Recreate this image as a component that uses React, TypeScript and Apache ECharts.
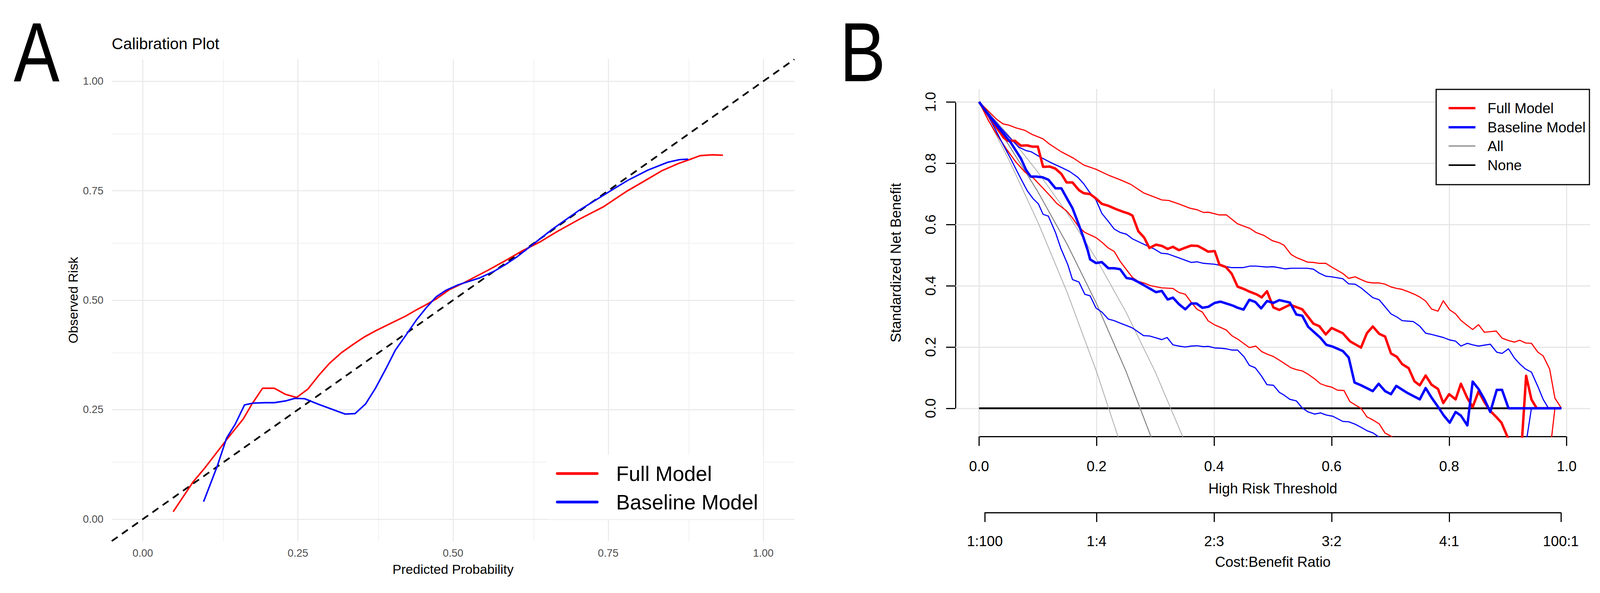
import React, { useEffect, useRef } from "react";
import * as echarts from "echarts";

const W = 4238;
const H = 1519;
const FONT = "'Liberation Sans', Arial, Helvetica, sans-serif";

// ---------------- Panel A : calibration plot data ----------------
const calibTicks = [0, 0.25, 0.5, 0.75, 1];
const calibMinor = [0.125, 0.375, 0.625, 0.875];
const calibDiagonal = [[-0.05, -0.05], [1.05, 1.05]];
const fullCalib = [
  [0.049, 0.017], [0.081, 0.085], [0.1, 0.117], [0.137, 0.185], [0.162, 0.229], [0.176, 0.263],
  [0.193, 0.299], [0.212, 0.299], [0.23, 0.285], [0.248, 0.278], [0.266, 0.297], [0.284, 0.329],
  [0.301, 0.356], [0.32, 0.38], [0.34, 0.4], [0.357, 0.416], [0.375, 0.43], [0.408, 0.453],
  [0.424, 0.464], [0.441, 0.478], [0.457, 0.49], [0.473, 0.503], [0.494, 0.524], [0.515, 0.538],
  [0.557, 0.569], [0.584, 0.59], [0.612, 0.613], [0.64, 0.633], [0.668, 0.657], [0.705, 0.686],
  [0.742, 0.713], [0.779, 0.748], [0.807, 0.771], [0.837, 0.796], [0.863, 0.812], [0.881, 0.821],
  [0.898, 0.83], [0.917, 0.832], [0.935, 0.831],
];
const baseCalib = [
  [0.098, 0.04], [0.12, 0.121], [0.135, 0.185], [0.149, 0.217], [0.164, 0.261], [0.178, 0.265],
  [0.197, 0.266], [0.212, 0.266], [0.23, 0.27], [0.245, 0.276], [0.261, 0.275], [0.282, 0.263],
  [0.305, 0.251], [0.326, 0.24], [0.342, 0.241], [0.359, 0.263], [0.375, 0.299], [0.392, 0.344],
  [0.407, 0.386], [0.425, 0.422], [0.441, 0.455], [0.457, 0.483], [0.473, 0.508], [0.489, 0.523],
  [0.508, 0.535], [0.543, 0.551], [0.566, 0.566], [0.584, 0.581], [0.603, 0.599], [0.622, 0.62],
  [0.64, 0.64], [0.659, 0.661], [0.677, 0.679], [0.705, 0.707], [0.728, 0.727], [0.754, 0.75],
  [0.782, 0.774], [0.814, 0.797], [0.846, 0.815], [0.865, 0.821], [0.879, 0.822],
];

// ---------------- Panel B : decision curve data ----------------
const dcaTicks = [0, 0.2, 0.4, 0.6, 0.8, 1];
const costBenefitValues = [1 / 101, 0.2, 0.4, 0.6, 0.8, 100 / 101];
const costBenefitLabels = ["1:100", "1:4", "2:3", "3:2", "4:1", "100:1"];

const fullNB = [
  [0, 1], [0.042, 0.883], [0.049, 0.873], [0.061, 0.873], [0.071, 0.857], [0.082, 0.858], [0.09, 0.854],
  [0.1, 0.854], [0.109, 0.788], [0.12, 0.789], [0.13, 0.782], [0.14, 0.765], [0.149, 0.737], [0.159, 0.737],
  [0.17, 0.712], [0.178, 0.702], [0.189, 0.699], [0.199, 0.685], [0.209, 0.667], [0.22, 0.661], [0.233, 0.65],
  [0.244, 0.642], [0.254, 0.636], [0.261, 0.629], [0.271, 0.578], [0.281, 0.557], [0.29, 0.523], [0.301, 0.534],
  [0.311, 0.53], [0.321, 0.52], [0.33, 0.527], [0.34, 0.516], [0.351, 0.524], [0.361, 0.531], [0.372, 0.53],
  [0.382, 0.52], [0.39, 0.511], [0.401, 0.513], [0.409, 0.469], [0.42, 0.461], [0.43, 0.439], [0.44, 0.397],
  [0.451, 0.389], [0.461, 0.38], [0.472, 0.372], [0.481, 0.362], [0.49, 0.382], [0.501, 0.329], [0.511, 0.321],
  [0.529, 0.338], [0.55, 0.323], [0.569, 0.276], [0.579, 0.268], [0.59, 0.241], [0.6, 0.262], [0.619, 0.245],
  [0.631, 0.219], [0.65, 0.198], [0.66, 0.245], [0.67, 0.267], [0.681, 0.243], [0.691, 0.234], [0.701, 0.179],
  [0.711, 0.168], [0.72, 0.144], [0.731, 0.131], [0.741, 0.088], [0.75, 0.075], [0.76, 0.107], [0.77, 0.077],
  [0.781, 0.063], [0.79, 0.017], [0.8, 0.046], [0.811, 0.029], [0.82, 0.08], [0.831, 0.033], [0.84, 0.004],
  [0.85, 0.055], [0.86, 0.02], [0.87, -0.009], [0.879, -0.026], [0.889, -0.047], [0.903, -0.11], [0.921, -0.19],
  [0.931, 0.106], [0.94, 0.029], [0.949, 0], [0.99, 0],
];
const fullUpper = [
  [0, 1], [0.02, 0.962], [0.03, 0.943], [0.041, 0.928], [0.051, 0.924], [0.063, 0.915], [0.078, 0.907],
  [0.09, 0.894], [0.109, 0.879], [0.12, 0.862], [0.14, 0.837], [0.161, 0.816], [0.178, 0.794], [0.199, 0.78],
  [0.22, 0.761], [0.24, 0.746], [0.258, 0.731], [0.28, 0.703], [0.299, 0.689], [0.311, 0.68], [0.323, 0.678],
  [0.34, 0.667], [0.359, 0.653], [0.371, 0.648], [0.382, 0.639], [0.39, 0.64], [0.409, 0.631], [0.421, 0.631],
  [0.44, 0.602], [0.461, 0.587], [0.471, 0.574], [0.485, 0.564], [0.499, 0.547], [0.511, 0.54], [0.519, 0.532],
  [0.531, 0.502], [0.54, 0.492], [0.559, 0.477], [0.569, 0.476], [0.579, 0.473], [0.59, 0.473], [0.6, 0.461],
  [0.619, 0.44], [0.629, 0.424], [0.64, 0.429], [0.65, 0.42], [0.66, 0.412], [0.67, 0.409], [0.681, 0.409],
  [0.691, 0.405], [0.701, 0.396], [0.711, 0.391], [0.72, 0.388], [0.731, 0.38], [0.741, 0.372], [0.75, 0.363],
  [0.76, 0.35], [0.77, 0.324], [0.781, 0.317], [0.79, 0.351], [0.801, 0.321], [0.811, 0.308], [0.82, 0.287],
  [0.831, 0.27], [0.84, 0.257], [0.85, 0.273], [0.86, 0.248], [0.88, 0.252], [0.89, 0.229], [0.901, 0.221],
  [0.911, 0.216], [0.92, 0.222], [0.93, 0.213], [0.94, 0.212], [0.951, 0.183], [0.96, 0.171], [0.971, 0.128],
  [0.98, 0.033], [0.991, 0],
];
const fullLower = [
  [0, 1], [0.016, 0.939], [0.03, 0.894], [0.047, 0.845], [0.063, 0.803], [0.078, 0.771], [0.092, 0.752],
  [0.109, 0.718], [0.123, 0.689], [0.132, 0.669], [0.149, 0.644], [0.159, 0.621], [0.17, 0.591], [0.18, 0.574],
  [0.199, 0.557], [0.209, 0.542], [0.22, 0.523], [0.23, 0.512], [0.24, 0.48], [0.251, 0.452], [0.261, 0.427],
  [0.271, 0.414], [0.282, 0.408], [0.292, 0.4], [0.311, 0.393], [0.33, 0.391], [0.34, 0.378], [0.351, 0.372],
  [0.361, 0.346], [0.371, 0.323], [0.38, 0.314], [0.39, 0.285], [0.401, 0.272], [0.411, 0.264], [0.421, 0.255],
  [0.43, 0.237], [0.44, 0.226], [0.45, 0.212], [0.46, 0.198], [0.471, 0.203], [0.481, 0.185], [0.491, 0.176],
  [0.501, 0.169], [0.511, 0.157], [0.519, 0.147], [0.531, 0.132], [0.54, 0.126], [0.55, 0.122], [0.56, 0.111],
  [0.571, 0.096], [0.581, 0.08], [0.591, 0.073], [0.6, 0.069], [0.61, 0.059], [0.621, 0.058], [0.631, 0.022],
  [0.641, 0.01], [0.65, 0], [0.66, -0.028], [0.671, -0.039], [0.681, -0.051], [0.691, -0.081], [0.702, -0.092],
  [0.712, -0.13], [0.968, -0.2], [0.98, 0], [0.991, 0],
];
const baseNB = [
  [0, 1], [0.02, 0.947], [0.037, 0.907], [0.054, 0.867], [0.071, 0.816], [0.08, 0.778], [0.088, 0.756],
  [0.097, 0.756], [0.108, 0.754], [0.118, 0.746], [0.13, 0.718], [0.14, 0.718], [0.151, 0.68], [0.159, 0.653],
  [0.168, 0.608], [0.177, 0.561], [0.185, 0.515], [0.189, 0.486], [0.199, 0.474], [0.209, 0.477], [0.22, 0.457],
  [0.23, 0.457], [0.24, 0.454], [0.251, 0.425], [0.261, 0.422], [0.271, 0.412], [0.282, 0.4], [0.292, 0.389],
  [0.301, 0.379], [0.311, 0.383], [0.321, 0.355], [0.33, 0.361], [0.34, 0.34], [0.351, 0.323], [0.361, 0.342],
  [0.37, 0.342], [0.38, 0.328], [0.39, 0.331], [0.401, 0.344], [0.411, 0.348], [0.421, 0.342], [0.432, 0.335],
  [0.44, 0.328], [0.45, 0.322], [0.46, 0.354], [0.47, 0.347], [0.48, 0.326], [0.49, 0.35], [0.501, 0.344],
  [0.511, 0.353], [0.529, 0.345], [0.54, 0.306], [0.55, 0.302], [0.56, 0.266], [0.571, 0.247], [0.581, 0.23],
  [0.591, 0.207], [0.602, 0.201], [0.619, 0.187], [0.629, 0.166], [0.639, 0.084], [0.65, 0.075], [0.67, 0.056],
  [0.68, 0.08], [0.691, 0.056], [0.701, 0.046], [0.71, 0.073], [0.729, 0.05], [0.75, 0.029], [0.76, 0.066],
  [0.77, 0.035], [0.781, 0.005], [0.791, -0.024], [0.801, -0.047], [0.811, -0.012], [0.82, -0.024],
  [0.831, -0.056], [0.84, 0.087], [0.85, 0.063], [0.86, 0.029], [0.87, -0.012], [0.881, 0.06], [0.89, 0.06],
  [0.901, 0], [0.991, 0],
];
const baseUpper = [
  [0, 1], [0.02, 0.953], [0.037, 0.915], [0.056, 0.875], [0.068, 0.852], [0.08, 0.841], [0.089, 0.837],
  [0.104, 0.82], [0.123, 0.801], [0.14, 0.786], [0.154, 0.773], [0.168, 0.754], [0.178, 0.733], [0.187, 0.708],
  [0.199, 0.68], [0.209, 0.636], [0.22, 0.61], [0.23, 0.585], [0.24, 0.574], [0.251, 0.568], [0.261, 0.553],
  [0.282, 0.534], [0.299, 0.519], [0.31, 0.506], [0.321, 0.504], [0.337, 0.493], [0.351, 0.483], [0.361, 0.476],
  [0.371, 0.478], [0.382, 0.473], [0.401, 0.47], [0.411, 0.466], [0.43, 0.459], [0.449, 0.459], [0.461, 0.464],
  [0.471, 0.464], [0.489, 0.461], [0.501, 0.462], [0.521, 0.455], [0.531, 0.457], [0.559, 0.457], [0.569, 0.454],
  [0.579, 0.441], [0.59, 0.431], [0.6, 0.429], [0.619, 0.423], [0.629, 0.406], [0.64, 0.405], [0.65, 0.393],
  [0.66, 0.377], [0.67, 0.361], [0.681, 0.354], [0.691, 0.331], [0.701, 0.308], [0.711, 0.298], [0.72, 0.286],
  [0.739, 0.283], [0.75, 0.268], [0.76, 0.245], [0.77, 0.241], [0.79, 0.231], [0.801, 0.223], [0.811, 0.219],
  [0.82, 0.203], [0.831, 0.212], [0.84, 0.207], [0.85, 0.203], [0.87, 0.209], [0.881, 0.183], [0.89, 0.179],
  [0.901, 0.194], [0.911, 0.164], [0.92, 0.145], [0.93, 0.128], [0.94, 0.118], [0.951, 0.071], [0.96, 0.029],
  [0.969, 0], [0.991, 0],
];
const baseLower = [
  [0, 1], [0.013, 0.962], [0.027, 0.913], [0.04, 0.864], [0.054, 0.814], [0.068, 0.761], [0.082, 0.71],
  [0.092, 0.684], [0.101, 0.667], [0.109, 0.633], [0.118, 0.627], [0.13, 0.574], [0.139, 0.523], [0.151, 0.469],
  [0.159, 0.42], [0.17, 0.412], [0.18, 0.372], [0.189, 0.367], [0.199, 0.327], [0.209, 0.314], [0.22, 0.291],
  [0.23, 0.286], [0.24, 0.278], [0.251, 0.27], [0.261, 0.262], [0.271, 0.249], [0.28, 0.237], [0.29, 0.236],
  [0.301, 0.23], [0.311, 0.224], [0.32, 0.231], [0.33, 0.207], [0.34, 0.203], [0.351, 0.2], [0.361, 0.203],
  [0.371, 0.204], [0.382, 0.201], [0.39, 0.202], [0.401, 0.197], [0.411, 0.196], [0.421, 0.194], [0.43, 0.19],
  [0.44, 0.19], [0.451, 0.168], [0.46, 0.14], [0.47, 0.132], [0.48, 0.107], [0.49, 0.077], [0.501, 0.075],
  [0.511, 0.052], [0.519, 0.043], [0.529, 0.029], [0.54, 0.024], [0.55, 0.001], [0.56, -0.012], [0.571, -0.019],
  [0.581, -0.015], [0.591, -0.022], [0.602, -0.026], [0.619, -0.043], [0.629, -0.044], [0.64, -0.052],
  [0.65, -0.062], [0.66, -0.073], [0.671, -0.081], [0.679, -0.092], [0.69, -0.12], [0.924, -0.2], [0.94, 0],
  [0.991, 0],
];
const allLow = [[0, 1], [0.05, 0.814], [0.1, 0.608], [0.15, 0.378], [0.2, 0.119], [0.24, -0.113]];
const allMid = [[0, 1], [0.05, 0.861], [0.1, 0.707], [0.15, 0.535], [0.2, 0.341], [0.25, 0.121], [0.3, -0.13]];
const allHigh = [[0, 1], [0.05, 0.892], [0.1, 0.771], [0.15, 0.637], [0.2, 0.486], [0.25, 0.314], [0.3, 0.118], [0.35, -0.108]];
const noneLine = [[0, 0], [0.99, 0]];

// ---------------- layout (design pixels, 4238 x 1519) ----------------
const A_LEFT = 296, A_TOP = 152, A_W = 1808, A_H = 1234;
const A_MIN = -0.05, A_MAX = 1.05;
const B_LEFT = 2531, B_TOP = 228, B_W = 1681, B_H = 890;
const BX_MIN = -0.04, BX_MAX = 1.04, BY_MIN = -0.092, BY_MAX = 1.042;
const bx = (v: number) => B_LEFT + ((v - BX_MIN) / (BX_MAX - BX_MIN)) * B_W;
const by = (v: number) => B_TOP + ((BY_MAX - v) / (BY_MAX - BY_MIN)) * B_H;
const CB_AXIS_Y = 1313;

const RED = "#FF0000";
const BLUE = "#0000FF";

function buildOption(sx: number, sy: number) {
  const s = Math.min(sx, sy);
  const X = (v: number) => v * sx;
  const Y = (v: number) => v * sy;
  const F = (v: number) => v * s;

  const lineSeries = (name: string, data: number[][], xi: number, yi: number, color: string, width: number, z: number, extra: any = {}) => ({
    type: "line",
    name,
    data,
    xAxisIndex: xi,
    yAxisIndex: yi,
    showSymbol: false,
    symbol: "none",
    silent: true,
    z,
    clip: true,
    lineStyle: { color, width: F(width), cap: "butt", join: "round", ...extra },
    itemStyle: { color },
  });

  const gridLineSeries = (xi: number, yi: number, items: any[]) => ({
    type: "line",
    data: [],
    xAxisIndex: xi,
    yAxisIndex: yi,
    silent: true,
    z: 1,
    markLine: {
      silent: true,
      z: 1,
      zlevel: 0,
      symbol: ["none", "none"],
      label: { show: false },
      animation: false,
      data: items,
    },
  });

  const aMajor = "#EBEBEB";
  const aMinor = "#F1F1F1";
  const aGrid = [
    ...calibTicks.map((v) => ({ xAxis: v, lineStyle: { color: aMajor, width: F(3), type: "solid" } })),
    ...calibMinor.map((v) => ({ xAxis: v, lineStyle: { color: aMinor, width: F(2), type: "solid" } })),
    ...calibTicks.map((v) => ({ yAxis: v, lineStyle: { color: aMajor, width: F(3), type: "solid" } })),
    ...calibMinor.map((v) => ({ yAxis: v, lineStyle: { color: aMinor, width: F(2), type: "solid" } })),
  ];
  const bGridColor = "#E6E6E6";
  const bGrid = [
    ...dcaTicks.map((v) => ({ xAxis: v, lineStyle: { color: bGridColor, width: F(3), type: "solid" } })),
    ...dcaTicks.map((v) => ({ yAxis: v, lineStyle: { color: bGridColor, width: F(3), type: "solid" } })),
  ];

  const hiddenAxis = (gridIndex: number, min: number, max: number) => ({
    type: "value",
    gridIndex,
    min,
    max,
    show: false,
    axisLine: { show: false, onZero: false },
    splitLine: { show: false },
  });

  const cbLeft = bx(costBenefitValues[0]);
  const cbRight = bx(costBenefitValues[costBenefitValues.length - 1]);
  const blackAxis = { show: true, onZero: false, lineStyle: { color: "#000", width: F(3) } };
  const blackTick = { show: true, length: F(25), inside: false, lineStyle: { color: "#000", width: F(3) } };
  const bText = { fontSize: F(38), color: "#000", fontFamily: FONT };

  const legendA = { x0: 1448, y0: 1165, w: 574, h: 165, lineX1: 1476, lineX2: 1582, textX: 1632, rows: [1213, 1286] };
  const legendB = { x0: 3804, y0: 229, w: 406, h: 244, lineX1: 3837, lineX2: 3908, textX: 3940, rows: [277, 326, 374, 423] };
  const legendAItems = [
    { text: "Full Model", color: RED },
    { text: "Baseline Model", color: BLUE },
  ];
  const legendBItems = [
    { text: "Full Model", color: RED, width: 6 },
    { text: "Baseline Model", color: BLUE, width: 6 },
    { text: "All", color: "#A0A0A0", width: 4 },
    { text: "None", color: "#000000", width: 4 },
  ];
  const txt = (text: string, x: number, y: number, size: number, extra: any = {}) => ({
    type: "text",
    z: 51,
    x: X(x),
    y: Y(y),
    style: {
      text,
      fontSize: F(size),
      fontFamily: FONT,
      fill: "#000",
      align: "left",
      verticalAlign: "middle",
      textAlign: "left",
      textVerticalAlign: "middle",
      ...extra,
    },
  });

  // panel letters: baseline of the capital on y = 208 (design), kept inside the top edge
  const letterSize = F(222);
  const letterY = (Y(208) - 0.3465 * letterSize) / sy;
  const letter = (t: string, x: number) => ({
    ...txt(t, x, letterY, 222, { align: "center", textAlign: "center" }),
    scaleX: 0.82,
  });

  const grids = [
    { left: X(A_LEFT), top: Y(A_TOP), width: X(A_W), height: Y(A_H) },
    { left: X(B_LEFT), top: Y(B_TOP), width: X(B_W), height: Y(B_H) },
    { left: X(B_LEFT), top: Y(by(1)), width: 1, height: Y(by(0) - by(1)) },
    { left: X(bx(0)), top: Y(by(BY_MIN)) - 1, width: X(bx(1) - bx(0)), height: 1 },
    { left: X(cbLeft), top: Y(CB_AXIS_Y) - 1, width: X(cbRight - cbLeft), height: 1 },
  ].map((g) => ({ ...g, containLabel: false, outerBoundsMode: "none" }));

  return {
    animation: false,
    backgroundColor: "#FFFFFF",
    textStyle: { fontFamily: FONT },
    title: {
      text: "Calibration Plot",
      left: X(A_LEFT),
      top: Y(91),
      padding: 0,
      textStyle: { fontSize: F(42), fontWeight: "normal", color: "#000", fontFamily: FONT },
    },
    grid: grids,
    xAxis: [
      {
        type: "value",
        gridIndex: 0,
        min: A_MIN,
        max: A_MAX,
        axisLine: { show: false, onZero: false },
        axisTick: { show: false },
        splitLine: { show: false },
        axisLabel: {
          customValues: calibTicks,
          formatter: (v: number) => v.toFixed(2),
          margin: Y(31),
          verticalAlign: "middle",
          fontSize: F(28),
          color: "#4D4D4D",
          fontFamily: FONT,
        },
        name: "Predicted Probability",
        nameLocation: "middle",
        nameGap: Y(72),
        nameMoveOverlap: false,
        nameTextStyle: { fontSize: F(35), color: "#000", fontFamily: FONT, verticalAlign: "middle" },
      },
      hiddenAxis(1, BX_MIN, BX_MAX),
      hiddenAxis(2, 0, 1),
      {
        type: "value",
        gridIndex: 3,
        min: 0,
        max: 1,
        interval: 0.2,
        axisLine: blackAxis,
        axisTick: blackTick,
        splitLine: { show: false },
        axisLabel: {
          ...bText,
          formatter: (v: number) => v.toFixed(1),
          margin: Y(76),
          verticalAlign: "middle",
          showMinLabel: true,
          showMaxLabel: true,
        },
        name: "High Risk Threshold",
        nameLocation: "middle",
        nameGap: Y(133),
        nameMoveOverlap: false,
        nameTextStyle: { ...bText, verticalAlign: "middle" },
      },
      {
        type: "value",
        gridIndex: 4,
        min: costBenefitValues[0],
        max: costBenefitValues[costBenefitValues.length - 1],
        axisLine: blackAxis,
        axisTick: { ...blackTick, customValues: costBenefitValues },
        splitLine: { show: false },
        axisLabel: {
          ...bText,
          customValues: costBenefitValues,
          formatter: (v: number) => {
            let best = 0;
            costBenefitValues.forEach((c, i) => {
              if (Math.abs(c - v) < Math.abs(costBenefitValues[best] - v)) best = i;
            });
            return costBenefitLabels[best];
          },
          margin: Y(73),
          verticalAlign: "middle",
          showMinLabel: true,
          showMaxLabel: true,
        },
        name: "Cost:Benefit Ratio",
        nameLocation: "middle",
        nameGap: Y(126),
        nameMoveOverlap: false,
        nameTextStyle: { ...bText, verticalAlign: "middle" },
      },
    ],
    yAxis: [
      {
        type: "value",
        gridIndex: 0,
        min: A_MIN,
        max: A_MAX,
        axisLine: { show: false, onZero: false },
        axisTick: { show: false },
        splitLine: { show: false },
        axisLabel: {
          customValues: calibTicks,
          formatter: (v: number) => v.toFixed(2),
          margin: X(22),
          fontSize: F(28),
          color: "#4D4D4D",
          fontFamily: FONT,
        },
        name: "Observed Risk",
        nameLocation: "middle",
        nameGap: X(103),
        nameRotate: 90,
        nameMoveOverlap: false,
        nameTextStyle: { fontSize: F(35), color: "#000", fontFamily: FONT, verticalAlign: "middle" },
      },
      {
        type: "value",
        gridIndex: 1,
        min: BY_MIN,
        max: BY_MAX,
        axisLine: { show: false, onZero: false },
        axisTick: { show: false },
        axisLabel: { show: false },
        splitLine: { show: false },
        name: "Standardized Net Benefit",
        nameLocation: "middle",
        nameGap: X(158),
        nameRotate: 90,
        nameMoveOverlap: false,
        nameTextStyle: { ...bText, verticalAlign: "middle" },
      },
      {
        type: "value",
        gridIndex: 2,
        min: 0,
        max: 1,
        interval: 0.2,
        axisLine: blackAxis,
        axisTick: blackTick,
        splitLine: { show: false },
        axisLabel: {
          ...bText,
          formatter: (v: number) => v.toFixed(1),
          rotate: 90,
          margin: X(66),
          align: "center",
          verticalAlign: "middle",
          showMinLabel: true,
          showMaxLabel: true,
        },
      },
      hiddenAxis(3, 0, 1),
      hiddenAxis(4, 0, 1),
    ],
    series: [
      gridLineSeries(0, 0, aGrid),
      lineSeries("Diagonal", calibDiagonal, 0, 0, "#000000", 4.5, 3, { type: [F(19), F(14)] }),
      lineSeries("Full Model", fullCalib, 0, 0, RED, 4, 4),
      lineSeries("Baseline Model", baseCalib, 0, 0, BLUE, 4, 4),

      gridLineSeries(1, 1, bGrid),
      lineSeries("None", noneLine, 1, 1, "#000000", 5, 3),
      lineSeries("All (lower)", allLow, 1, 1, "#A8A8A8", 2, 3),
      lineSeries("All", allMid, 1, 1, "#808080", 2.5, 3),
      lineSeries("All (upper)", allHigh, 1, 1, "#A8A8A8", 2, 3),
      lineSeries("Full Model upper", fullUpper, 1, 1, RED, 3, 4),
      lineSeries("Full Model lower", fullLower, 1, 1, RED, 3, 4),
      lineSeries("Baseline Model upper", baseUpper, 1, 1, BLUE, 3, 4),
      lineSeries("Baseline Model lower", baseLower, 1, 1, BLUE, 3, 4),
      lineSeries("Full Model NB", fullNB, 1, 1, RED, 6.5, 5),
      lineSeries("Baseline Model NB", baseNB, 1, 1, BLUE, 6.5, 6),
    ],
    graphic: [
      letter("A", 97),
      letter("B", 2285),
      {
        type: "rect",
        z: 50,
        shape: { x: X(legendA.x0), y: Y(legendA.y0), width: X(legendA.w), height: Y(legendA.h) },
        style: { fill: "#FFFFFF" },
      },
      ...legendAItems.flatMap((it, i) => [
        {
          type: "line",
          z: 51,
          shape: { x1: X(legendA.lineX1), y1: Y(legendA.rows[i]), x2: X(legendA.lineX2), y2: Y(legendA.rows[i]) },
          style: { stroke: it.color, lineWidth: F(7), lineCap: "round" },
        },
        txt(it.text, legendA.textX, legendA.rows[i], 55),
      ]),
      {
        type: "rect",
        z: 50,
        shape: { x: X(legendB.x0), y: Y(legendB.y0), width: X(legendB.w), height: Y(legendB.h) },
        style: { fill: "#FFFFFF", stroke: "#000000", lineWidth: F(3) },
      },
      ...legendBItems.flatMap((it, i) => [
        {
          type: "line",
          z: 51,
          shape: { x1: X(legendB.lineX1), y1: Y(legendB.rows[i]), x2: X(legendB.lineX2), y2: Y(legendB.rows[i]) },
          style: { stroke: it.color, lineWidth: F(it.width), lineCap: "butt" },
        },
        txt(it.text, legendB.textX, legendB.rows[i], 38),
      ]),
    ],
  };
}

export default function App() {
  const ref = useRef<HTMLDivElement>(null);
  const vw = Math.floor((typeof window !== "undefined" && window.innerWidth) || W);
  const vh = Math.floor((typeof window !== "undefined" && window.innerHeight) || H);
  useEffect(() => {
    document.body.style.margin = "0";
    document.body.style.overflow = "hidden";
    if (!ref.current) return;
    const chart = echarts.init(ref.current, null, { renderer: "svg", width: vw, height: vh });
    chart.setOption(buildOption(vw / W, vh / H) as any);
    return () => {
      chart.dispose();
    };
  }, []);
  return (
    <div
      ref={ref}
      style={{ position: "absolute", left: 0, top: 0, width: vw, height: vh, background: "#fff" }}
    />
  );
}
